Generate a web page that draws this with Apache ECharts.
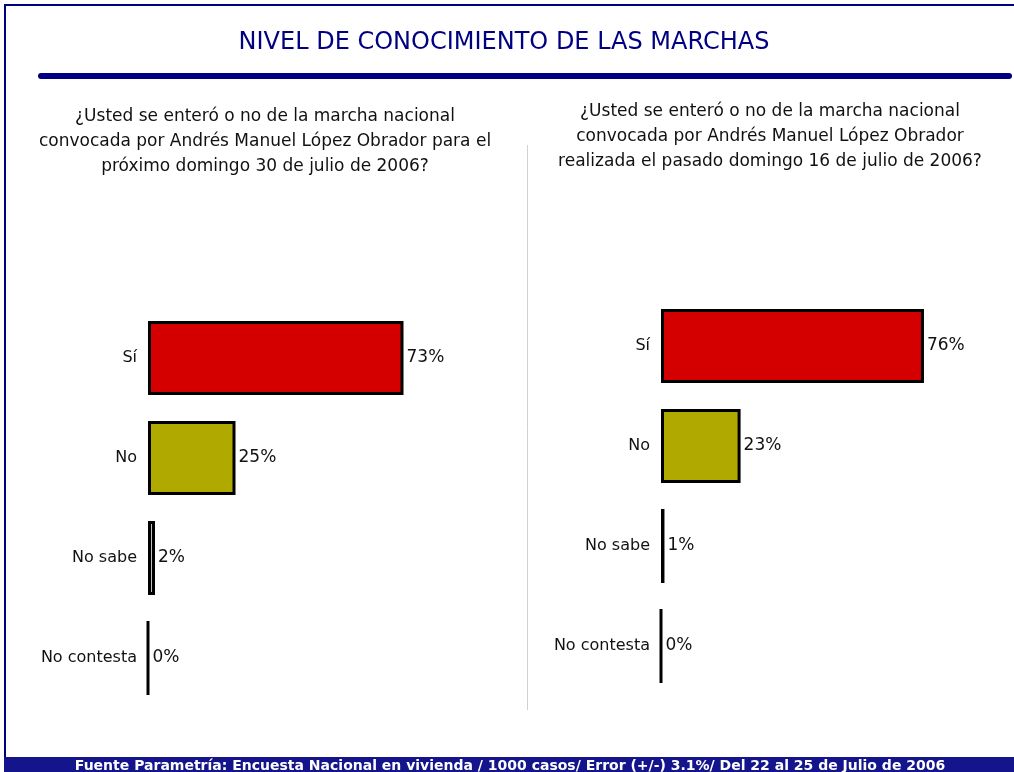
<!DOCTYPE html>
<html>
<head>
<meta charset="utf-8">
<script src="https://cdn.jsdelivr.net/npm/echarts@6/dist/echarts.min.js"></script>
<style>
html,body{margin:0;padding:0;background:#fff;}
#chart{width:1014px;height:772px;}
</style>
</head>
<body>
<div id="chart"></div>
<script>
const chartTitle = 'NIVEL DE CONOCIMIENTO DE LAS MARCHAS';
const categories = ['Sí', 'No', 'No sabe', 'No contesta'];
const valuesLeft = [73, 25, 2, 0];
const valuesRight = [76, 23, 1, 0];
const barColors = ['#d40000', '#b0aa00', '#c0c0c0', '#c0c0c0'];
const questionLeft = '¿Usted se enteró o no de la marcha nacional\nconvocada por Andrés Manuel López Obrador para el\npróximo domingo 30 de julio de 2006?';
const questionRight = '¿Usted se enteró o no de la marcha nacional\nconvocada por Andrés Manuel López Obrador\nrealizada el pasado domingo 16 de julio de 2006?';
const footerText = 'Fuente Parametría: Encuesta Nacional en vivienda / 1000 casos/ Error (+/-) 3.1%/ Del 22 al 25 de Julio de 2006';

const FONT = 'DejaVu Sans';
const chart = echarts.init(document.getElementById('chart'), null, {renderer: 'canvas'});

function barSeries(vals, idx) {
  return {
    type: 'bar',
    xAxisIndex: idx,
    yAxisIndex: idx,
    barCategoryGap: '26%',
    data: vals.map((v, i) => ({value: v, itemStyle: {color: barColors[i]}})),
    itemStyle: {borderColor: '#000', borderWidth: 3},
    label: {
      show: true, position: 'right', distance: 3,
      formatter: '{c}%', fontFamily: FONT, fontSize: 17, color: '#111'
    },
    silent: true,
    animation: false
  };
}

function catAxis(idx) {
  return {
    type: 'category', gridIndex: idx, data: categories, inverse: true,
    axisLine: {show: false}, axisTick: {show: false},
    axisLabel: {fontFamily: FONT, fontSize: 16, color: '#111', margin: 11, padding: [4, 0, 0, 0]}
  };
}
function valAxis(idx) {
  return {
    type: 'value', gridIndex: idx, min: 0, max: 100,
    show: false, splitLine: {show: false}
  };
}

chart.setOption({
  backgroundColor: '#fff',
  animation: false,
  grid: [
    {left: 148, width: 350, top: 308, height: 400},
    {left: 661, width: 346, top: 296, height: 400}
  ],
  xAxis: [valAxis(0), valAxis(1)],
  yAxis: [catAxis(0), catAxis(1)],
  series: [barSeries(valuesLeft, 0), barSeries(valuesRight, 1)],
  graphic: [
    {type: 'line', shape: {x1: 4, y1: 5, x2: 1014, y2: 5}, style: {stroke: '#000080', lineWidth: 2}},
    {type: 'line', shape: {x1: 5, y1: 4, x2: 5, y2: 760}, style: {stroke: '#000080', lineWidth: 2}},
    {type: 'text', x: 504, y: 31, style: {text: chartTitle, fontFamily: FONT, fontSize: 24, fill: '#000080', align: 'center'}},
    {type: 'rect', shape: {x: 38, y: 73, width: 974, height: 6, r: 3}, style: {fill: '#000080'}},
    {type: 'line', shape: {x1: 527.5, y1: 145, x2: 527.5, y2: 710}, style: {stroke: '#d0d0d0', lineWidth: 1}},
    {type: 'text', x: 265, y: 104, style: {text: questionLeft, fontFamily: FONT, fontSize: 17, fill: '#111', align: 'center', lineHeight: 25}},
    {type: 'text', x: 770, y: 99, style: {text: questionRight, fontFamily: FONT, fontSize: 17, fill: '#111', align: 'center', lineHeight: 25}},
    {type: 'rect', shape: {x: 4, y: 757, width: 1010, height: 15}, style: {fill: '#14148c'}},
    {type: 'text', x: 510, y: 759, style: {text: footerText, fontFamily: FONT, fontSize: 14, fontWeight: 'bold', fill: '#fff', align: 'center'}}
  ]
});
</script>
</body>
</html>
